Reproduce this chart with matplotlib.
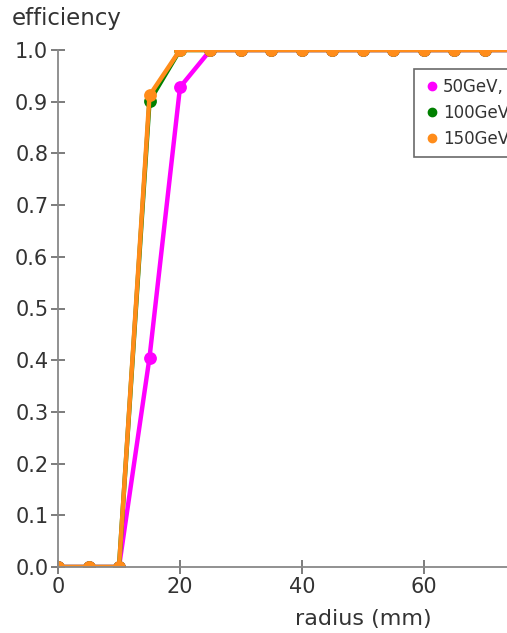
import numpy as np
import matplotlib.pyplot as plt

radius = [0, 5, 10, 15, 20, 25, 30, 35, 40, 45, 50, 55, 60, 65, 70, 75, 80, 85, 90, 95, 100]
eff_50 = [0, 0, 0, 0.405, 0.928] + [1] * 16
eff_100 = [0, 0, 0, 0.901] + [1] * 17
eff_150 = [0, 0, 0, 0.912] + [1] * 17
labels = ['50GeV,', '100GeV', '150GeV']
colors = ['#ff00ff', '#008000', '#ff8c1a']

W, H = 507, 633
fig = plt.figure(figsize=(W / 100, H / 100), dpi=100)
x0, x1 = 58, 58 + 100 * 6.1
y0, y1 = 567, 50
ax = fig.add_axes([x0 / W, 1 - y0 / H, (x1 - x0) / W, (y0 - y1) / H])

handles = []
for i, (y, c, lab) in enumerate(zip([eff_50, eff_100, eff_150], colors, labels)):
    ax.plot(radius, y, color=c, lw=3.2, zorder=2 + i)
    ax.scatter(radius, y, s=85, color=c, lw=0, zorder=2.5 + i)  # scatter gets clipped at the axes edge
    handles.append(plt.Line2D([], [], ls='none', marker='o', color=c, ms=6, label=lab))

ax.set_xlim(0, 100)
ax.set_ylim(0, 1)
ax.set_xticks([0, 20, 40, 60, 80, 100])
ax.set_yticks(np.arange(0, 1.01, 0.1))
ax.yaxis.set_major_formatter(plt.FormatStrFormatter('%.1f'))
for s in ['top', 'right']:
    ax.spines[s].set_visible(False)
for s in ['left', 'bottom']:
    ax.spines[s].set_color('#888888')
    ax.spines[s].set_linewidth(1.3)
    ax.spines[s].set_zorder(10)
ax.tick_params(axis='both', direction='inout', length=10, width=1.2, color='#666666',
               labelsize=15, labelcolor='#333333', pad=2)
ax.set_xlabel('radius (mm)', fontsize=16, color='#333333', labelpad=9)
fig.text(12 / W, 1 - 19 / H, 'efficiency', fontsize=16.5, color='#333333', va='center')

leg = fig.legend(handles=handles, loc='upper left', bbox_to_anchor=(414 / W, 1 - 69 / H),
                 fontsize=12, frameon=True, fancybox=False, handletextpad=0.2,
                 handlelength=1.0, borderpad=0.55, labelspacing=0.48, borderaxespad=0)
leg.get_frame().set_edgecolor('#444444')
leg.get_frame().set_linewidth(1.2)
for t in leg.get_texts():
    t.set_color('#333333')

fig.savefig('out.png', dpi=100)
